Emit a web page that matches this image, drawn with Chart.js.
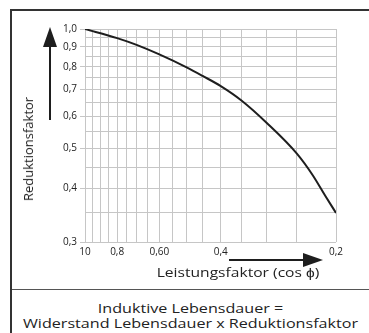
<!DOCTYPE html>
<html lang="de">
<head>
<meta charset="utf-8">
<title>Reduktionsfaktor</title>
<script src="https://cdn.jsdelivr.net/npm/chart.js@4.4.1/dist/chart.umd.min.js"></script>
<style>
  html, body { margin: 0; padding: 0; background: #fff; }
  body { width: 369px; height: 333px; position: relative; overflow: hidden; font-family: "Open Sans", sans-serif; color: #222; }
  #frame { position: absolute; left: 10px; top: 9px; width: 400px; height: 400px; border-top: 2px solid #333; border-left: 2px solid #333; }
  #divider { position: absolute; left: 12px; top: 289px; width: 357px; border-top: 1.5px solid #555; }
  #caption { position: absolute; left: 12px; width: 357px; top: 301px; text-align: center; font-size: 13px; line-height: 15px; transform: scaleX(1.24); }
  .axis-title { position: absolute; font-size: 13px; line-height: 16px; white-space: nowrap; }
  #xTitle { left: 238px; top: 272px; transform: translate(-50%, -50%) scaleX(1.2); }
  #yTitle { left: 27.5px; top: 148.5px; transform: translate(-50%, -50%) rotate(-90deg); }
  #chart { position: absolute; left: 0; top: 0; }
</style>
</head>
<body>
<div id="frame"></div>
<div id="divider"></div>
<div id="caption">Induktive Lebensdauer =<br>Widerstand Lebensdauer x Reduktionsfaktor</div>
<canvas id="chart" width="369" height="333"></canvas>
<div class="axis-title" id="yTitle">Reduktionsfaktor</div>
<div class="axis-title" id="xTitle">Leistungsfaktor (cos ϕ)</div>
<script>
// Leistungsfaktor (cos phi) and the matching Reduktionsfaktor along the curve
const cosPhi = [1.0, 0.8, 0.7, 0.6, 0.5, 0.45, 0.4, 0.35, 0.3, 0.25, 0.228, 0.212, 0.2];
const reduction = [1.0, 0.947, 0.91, 0.86, 0.797, 0.758, 0.714, 0.656, 0.578, 0.485, 0.43, 0.383, 0.35];

// grid lines on both axes
const xGrid = [1.0, 0.95, 0.9, 0.85, 0.8, 0.75, 0.7, 0.65, 0.6, 0.55, 0.5, 0.45, 0.4, 0.35, 0.3, 0.25, 0.2];
const yGrid = [1.0, 0.95, 0.9, 0.85, 0.8, 0.75, 0.7, 0.65, 0.6, 0.55, 0.5, 0.45, 0.4, 0.35, 0.3];

// labelled ticks
const xTickValues = [1.0, 0.8, 0.6, 0.4, 0.2];
const xTickLabels = ['10', '0,8', '0,60', '0,4', '0,2'];
const yTickValues = [1.0, 0.9, 0.8, 0.7, 0.6, 0.5, 0.4, 0.3];
const yTickLabels = ['1,0', '0,9', '0,8', '0,7', '0,6', '0,5', '0,4', '0,3'];

// both axes are logarithmic in (value - SHIFT)
const SHIFT = 0.05;

class ShiftedLogScale extends Chart.LogarithmicScale {
  configure() {
    super.configure();
    this._start = Math.log(this.min - SHIFT);
    this._range = Math.log(this.max - SHIFT) - this._start;
  }
  getPixelForValue(value) {
    return this.getPixelForDecimal((Math.log(value - SHIFT) - this._start) / this._range);
  }
  getValueForPixel(pixel) {
    return SHIFT + Math.exp(this._start + this.getDecimalForPixel(pixel) * this._range);
  }
}
ShiftedLogScale.id = 'shiftedLog';
ShiftedLogScale.defaults = {};
Chart.register(ShiftedLogScale);

function labelFor(values, labels, v) {
  const i = values.findIndex(t => Math.abs(t - v) < 1e-6);
  return i < 0 ? '' : labels[i];
}

const GRID = '#c6c6c6';
const INK = '#1e1e1e';

const axisArrows = {
  id: 'axisArrows',
  afterDraw(chart) {
    const { ctx, chartArea: a } = chart;
    ctx.save();
    ctx.strokeStyle = INK;
    ctx.fillStyle = INK;
    ctx.lineWidth = 2;

    // upward arrow next to the y title
    const ux = a.left - 35;
    ctx.beginPath();
    ctx.moveTo(ux, a.top + 15);
    ctx.lineTo(ux, a.top + 91);
    ctx.stroke();
    ctx.beginPath();
    ctx.moveTo(ux, a.top - 2);
    ctx.lineTo(ux + 7, a.top + 18);
    ctx.lineTo(ux - 7, a.top + 18);
    ctx.closePath();
    ctx.fill();

    // arrow to the right above the x title
    const ry = a.bottom + 18;
    ctx.beginPath();
    ctx.moveTo(a.left + 144, ry);
    ctx.lineTo(a.right - 30, ry);
    ctx.stroke();
    ctx.beginPath();
    ctx.moveTo(a.right - 13, ry);
    ctx.lineTo(a.right - 33, ry - 7);
    ctx.lineTo(a.right - 33, ry + 7);
    ctx.closePath();
    ctx.fill();
    ctx.restore();
  }
};

new Chart(document.getElementById('chart'), {
  type: 'line',
  data: {
    datasets: [{
      data: cosPhi.map((x, i) => ({ x: x, y: reduction[i] })),
      borderColor: INK,
      borderWidth: 2,
      pointRadius: 0,
      cubicInterpolationMode: 'monotone',
      fill: false
    }]
  },
  options: {
    responsive: false,
    animation: false,
    layout: { padding: { top: 29, right: 33, bottom: 43, left: 0 } },
    plugins: { legend: { display: false }, tooltip: { enabled: false } },
    scales: {
      x: {
        type: 'shiftedLog',
        reverse: true,
        min: 0.2,
        max: 1.0,
        afterBuildTicks: scale => { scale.ticks = xGrid.map(v => ({ value: v })); },
        afterFit: scale => { scale.height = 48; },
        grid: { color: GRID, lineWidth: 1, drawTicks: false },
        border: { display: false },
        ticks: {
          autoSkip: false,
          maxRotation: 0,
          padding: 4,
          color: '#222',
          font: { family: 'Open Sans', size: 10 },
          callback: v => labelFor(xTickValues, xTickLabels, v)
        }
      },
      y: {
        type: 'shiftedLog',
        min: 0.3,
        max: 1.0,
        afterBuildTicks: scale => { scale.ticks = yGrid.map(v => ({ value: v })); },
        afterFit: scale => { scale.width = 85; },
        grid: {
          color: GRID,
          lineWidth: 1,
          tickLength: 5,
          tickColor: c => (c.tick && labelFor(yTickValues, yTickLabels, c.tick.value) ? GRID : 'rgba(0,0,0,0)')
        },
        border: { display: false },
        ticks: {
          autoSkip: false,
          padding: 3,
          color: '#222',
          font: { family: 'Open Sans', size: 10 },
          callback: v => labelFor(yTickValues, yTickLabels, v)
        }
      }
    }
  },
  plugins: [axisArrows]
});
</script>
</body>
</html>
